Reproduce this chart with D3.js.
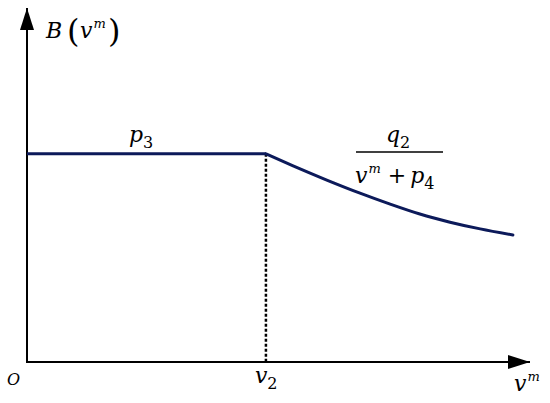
<!DOCTYPE html>
<html>
<head>
<meta charset="utf-8">
<script src="https://cdn.jsdelivr.net/npm/d3@7"></script>
<style>
	body{ margin:0; background:#fff; }
</style>
</head>
<body>
<svg id="chart" width="550" height="403"></svg>
<script>
// values, in axis units (0..100 on both axes)
var flatX = [0, 47.5];
var flatY = [58.8, 58.8];
var curveX = [47.5, 52.9, 59.6, 66.2, 72.2, 78.1, 84.1, 90.1, 96.6];
var curveY = [58.8, 55.4, 51.4, 47.7, 44.6, 41.8, 39.5, 37.6, 35.9];
var v2 = 47.5;

var svg = d3.select("#chart");
var ink = "#0c1a5a";
var serif = "'DejaVu Serif', 'Liberation Serif', serif";

var x = d3.scaleLinear().domain([0, 100]).range([27, 530]);
var y = d3.scaleLinear().domain([0, 100]).range([362, 8]);

var defs = svg.append("defs");
defs.append("marker")
	.attr("id", "arrow")
	.attr("viewBox", "0 0 22 14")
	.attr("refX", 22).attr("refY", 7)
	.attr("markerWidth", 22).attr("markerHeight", 14)
	.attr("markerUnits", "userSpaceOnUse")
	.attr("orient", "auto")
	.append("path")
	.attr("d", "M0,0L22,7L0,14Z")
	.attr("fill", "#000");

// axes
svg.append("line")
	.attr("x1", x(0)).attr("y1", y(0))
	.attr("x2", x(100)).attr("y2", y(0))
	.attr("stroke", "#000").attr("stroke-width", 2)
	.attr("marker-end", "url(#arrow)");
svg.append("line")
	.attr("x1", x(0)).attr("y1", y(0) + 1)
	.attr("x2", x(0)).attr("y2", y(100))
	.attr("stroke", "#000").attr("stroke-width", 2)
	.attr("marker-end", "url(#arrow)");

// dashed drop line at v2
svg.append("line")
	.attr("x1", x(v2)).attr("y1", y(flatY[1]))
	.attr("x2", x(v2)).attr("y2", y(0))
	.attr("stroke", "#000").attr("stroke-width", 2.5)
	.attr("stroke-dasharray", "3,2");

var line = d3.line()
	.x(function(d){ return x(d[0]); })
	.y(function(d){ return y(d[1]); });

svg.append("path")
	.datum(d3.zip(flatX, flatY))
	.attr("d", line)
	.attr("fill", "none").attr("stroke", ink).attr("stroke-width", 3);

svg.append("path")
	.datum(d3.zip(curveX, curveY))
	.attr("d", line.curve(d3.curveMonotoneX))
	.attr("fill", "none").attr("stroke", ink).attr("stroke-width", 3)
	.attr("stroke-linecap", "round");

// labels
function label(px, py, size, parts){
	var t = svg.append("text").attr("x", px).attr("y", py)
		.style("font-family", serif).style("font-size", size + "px")
		.attr("fill", "#000");
	parts.forEach(function(p){
		var s = t.append("tspan").text(p.t);
		if(p.it) s.style("font-style", "italic");
		if(p.dy) s.attr("dy", p.dy);
		if(p.dx) s.attr("dx", p.dx);
		if(p.fs) s.style("font-size", p.fs + "px");
	});
	return t;
}

// B(v^m)
label(46, 38, 22, [{t:"B", it:true}]);
label(67, 42, 32, [{t:"("}]);
label(80, 38, 22, [{t:"v", it:true}, {t:"m", it:true, fs:13, dy:-10, dx:1}]);
label(108, 42, 32, [{t:")"}]);

// p3
label(129, 142, 22, [{t:"p", it:true}, {t:"3", fs:16, dy:6}]);

// fraction q2 / (v^m + p4)
label(386, 142, 22, [{t:"q", it:true}, {t:"2", fs:16, dy:6}]);
svg.append("line")
	.attr("x1", 356).attr("y1", 152).attr("x2", 443).attr("y2", 152)
	.attr("stroke", "#000").attr("stroke-width", 1.5);
label(355, 183, 22, [{t:"v", it:true}, {t:"m", it:true, fs:13, dy:-10, dx:1},
	{t:"+", dy:10, dx:7}, {t:"p", it:true, dx:4}, {t:"4", fs:16, dy:6}]);

// axis labels
label(x(v2) - 11, 383, 22, [{t:"v", it:true}, {t:"2", fs:16, dy:6}]);
label(514, 391, 22, [{t:"v", it:true}, {t:"m", it:true, fs:13, dy:-10, dx:1}]);
label(7, 385, 16, [{t:"O", it:true}]);
</script>
</body>
</html>
